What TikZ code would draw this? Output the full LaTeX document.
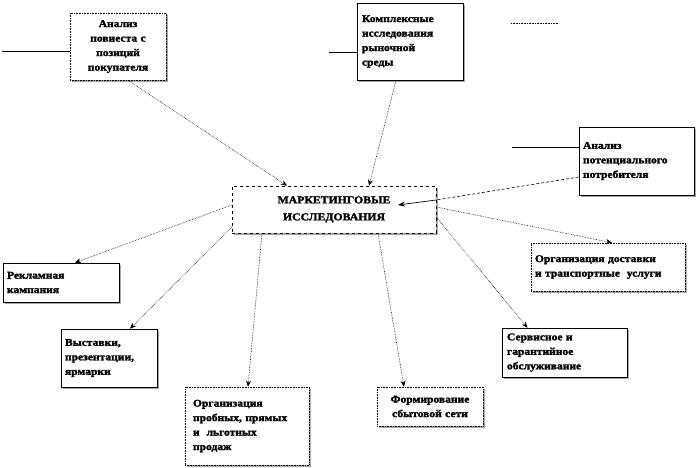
\documentclass[tikz,border=0pt]{standalone}
\usepackage{fontspec}
\setmainfont{Liberation Serif}[FakeStretch=1.12, BoldFeatures={FakeBold=2}]
\usetikzlibrary{arrows.meta,calc}
\begin{document}
\begin{tikzpicture}[x=1pt,y=-1pt,
  box/.style={draw=black, line width=0.6pt, fill=white, inner sep=3pt,
    font=\bfseries\fontsize{10.3}{14.5}\selectfont},
  conn/.style={densely dotted, line width=0.6pt, -{Stealth[length=6pt,width=5pt]}},
  plain/.style={line width=0.6pt}
]
\useasboundingbox (0,0) rectangle (697,467);
\fill[white] (0,0) rectangle (697,467);

% shadows
\foreach \a/\b/\c/\d in {70/13/166/80, 357/3/463/80, 579/127/694/195, 232/186/436/233,
  3/263/119/302, 61/329/157/387, 185/387/309/465, 377/387/483/426, 531/243/685/291, 502/328/627/377}
  \fill[gray!70] (\a+2,\b+2) rectangle (\c+2,\d+2);

\node[box, minimum width=96pt, minimum height=67pt, text width=90pt, align=center, densely dotted] (b1) at (118,46.5)
  {Анализ\\повиеста с\\позиций\\покупателя};
\node[box, minimum width=106pt, minimum height=77pt, text width=96pt, align=left, anchor=center] (b2) at (410,41.5)
  {Комплексные\\исследования\\рыночной\\среды};
\node[box, minimum width=115pt, minimum height=68pt, text width=107pt, align=left] (b3) at (636.5,161)
  {Анализ\\потенциального\\потребителя};
\node[box, dashed, minimum width=204pt, minimum height=47pt, text width=196pt, align=center,
  font=\bfseries\fontsize{10.5}{17}\selectfont] (c) at (334,209.5)
  {МАРКЕТИНГОВЫЕ\\ИССЛЕДОВАНИЯ};
\node[box, minimum width=116pt, minimum height=39pt, text width=108pt, align=left] (b5) at (61,282.5)
  {Рекламная\\кампания};
\node[box, minimum width=96pt, minimum height=58pt, text width=88pt, align=left] (b6) at (109,358)
  {Выставки,\\презентации,\\ярмарки};
\node[box, densely dotted, minimum width=124pt, minimum height=78pt, text width=108pt, align=left] (b7) at (247,426)
  {Организация\\пробных, прямых\\и~ льготных\\продаж};
\node[box, densely dotted, minimum width=106pt, minimum height=39pt, text width=98pt, align=center] (b8) at (430,406.5)
  {Формирование\\сбытовой сети};
\node[box, densely dotted, minimum width=154pt, minimum height=48pt, text width=146pt, align=left] (b9) at (608,267)
  {Организация доставки\\и транспортные~ услуги};
\node[box, minimum width=125pt, minimum height=49pt, text width=115pt, align=left] (b10) at (564.5,352.5)
  {Сервисное и\\гарантийное\\обслуживание};

% free-end lines
\coordinate (l1) at (2,51);
\coordinate (l2) at (329,52);
\coordinate (l3) at (512,147);
\coordinate (d1) at (511,23);
\coordinate (d2) at (559,23);
\draw[plain] (l1) -- (l1 -| b1.west);
\draw[plain] (l2) -- (l2 -| b2.west);
\draw[plain] (l3) -- (l3 -| b3.west);
\draw[densely dotted, line width=0.6pt] (d1) -- (d2);

% connectors in
\draw[conn] ([xshift=10pt]b1.south) -- ([xshift=-47pt]c.north);
\draw[conn] ([xshift=-14pt]b2.south) -- ([xshift=35pt]c.north);
\draw[densely dashed, line width=0.6pt] ([yshift=-16pt]b3.west) -- (436,200);
\draw[line width=0.7pt, -{Stealth[length=7pt,width=5pt]}] (436,200) -- ([xshift=64pt,yshift=4.5pt]c.center);

% connectors out
\draw[conn] ([yshift=4.5pt]c.west) -- ([xshift=14pt]b5.north);
\draw[conn] ([yshift=-17.5pt]c.west) -- ([xshift=21pt]b6.north);
\draw[conn] ([xshift=-72pt]c.south) -- ([xshift=1pt]b7.north);
\draw[conn] ([xshift=44pt]c.south) -- ([xshift=-26pt]b8.north);
\draw[conn] ([yshift=2.5pt]c.east) -- ([xshift=4pt]b9.north);
\draw[conn] ([yshift=-7.5pt]c.east) -- ([xshift=-37pt]b10.north);
\end{tikzpicture}
\end{document}
